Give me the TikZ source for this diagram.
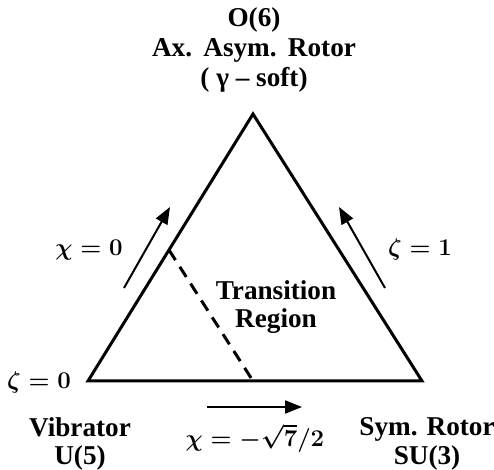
\documentclass[tikz,border=0pt]{standalone}
\usepackage{fontspec}
\setmainfont{Liberation Serif}
\usepackage{amsmath}
\usetikzlibrary{arrows.meta}

\begin{document}
\begin{tikzpicture}[
    x=0.5pt, y=-0.5pt,
    every node/.style={font=\fontsize{13.6}{14.2}\selectfont\bfseries, align=center, inner sep=0pt},
    mathlabel/.style={font=\large\boldmath},
    side/.style={line width=1.5pt, line join=miter},
    flow/.style={line width=1pt, -{Triangle[length=8.5pt, width=6.5pt]}},
    path/.style={line width=1.5pt, dash pattern=on 6pt off 4pt}
]
\useasboundingbox (0,0) rectangle (494,470);

% corners of the triangle
\coordinate (o6) at (253,114);
\coordinate (u5) at (88,381);
\coordinate (su3) at (422,381);
\draw[side] (u5) -- (o6) -- (su3) -- cycle;

% transition line
\coordinate (tl) at (169,250);
\coordinate (tb) at (253,381);
\draw[path] (tl) -- (tb);

% arrows along the sides
\coordinate (a1) at (124,288);
\coordinate (a2) at (170,207);
\coordinate (b1) at (385,288);
\coordinate (b2) at (339,207);
\coordinate (c1) at (207,407);
\coordinate (c2) at (302,407);
\draw[flow] (a1) -- (a2);
\draw[flow] (b1) -- (b2);
\draw[flow] (c1) -- (c2);

\node[font=\fontsize{13.6}{15}\selectfont\bfseries] (top) at (254,50) {O(6)\\Ax.\,\ Asym.\,\ Rotor\\( γ – soft)};
\node (region) at (276,307) {Transition\\Region};
\node (vib) at (80,444) {Vibrator\\U(5)};
\node (sym) at (427,444) {Sym. Rotor\\SU(3)};

\node[mathlabel] (chi0) at (89,250) {$\chi = 0$};
\node[mathlabel] (zeta1) at (420,250) {$\zeta = 1$};
\node[mathlabel] (zeta0) at (39,383) {$\zeta = 0$};
\node[mathlabel] (chi7) at (255,438) {$\chi = -\sqrt{7}/2$};

\end{tikzpicture}
\end{document}
